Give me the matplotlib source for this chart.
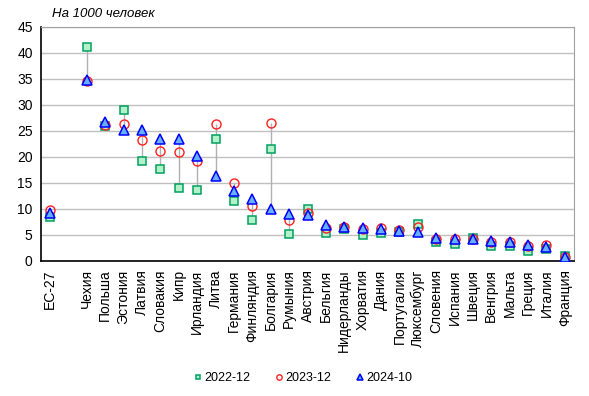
import matplotlib.pyplot as plt
import numpy as np

plt.rcParams['font.family'] = ['Liberation Sans', 'DejaVu Sans']

# categories ('' = empty slot after EU average)
countries = ['ЕС-27', '', 'Чехия', 'Польша', 'Эстония', 'Латвия', 'Словакия', 'Кипр',
             'Ирландия', 'Литва', 'Германия', 'Финляндия', 'Болгария', 'Румыния',
             'Австрия', 'Бельгия', 'Нидерланды', 'Хорватия', 'Дания', 'Португалия',
             'Люксембург', 'Словения', 'Испания', 'Швеция', 'Венгрия', 'Мальта',
             'Греция', 'Италия', 'Франция']

v2022 = [8.4, np.nan, 41.2, 26.0, 29.0, 19.2, 17.7, 14.0, 13.7, 23.4, 11.6, 7.8, 21.5, 5.2,
         9.9, 5.4, 6.2, 4.9, 5.3, 5.5, 7.2, 3.6, 3.3, 4.5, 2.9, 2.9, 2.0, 2.3, 1.0]
v2023 = [9.8, np.nan, 34.6, 26.1, 26.4, 23.3, 21.2, 21.0, 19.2, 26.3, 14.9, 10.5, 26.5, 7.8,
         9.3, 6.4, 6.5, 6.2, 6.4, 5.9, 6.5, 4.2, 4.3, 4.3, 3.6, 3.7, 2.8, 3.0, 0.8]
v2024 = [9.3, np.nan, 34.7, 26.7, 25.2, 25.2, 23.4, 23.4, 20.2, 16.3, 13.5, 11.9, 10.0, 9.1,
         8.8, 7.0, 6.6, 6.4, 6.2, 5.8, 5.6, 4.5, 4.3, 4.3, 3.8, 3.7, 3.0, 2.7, 0.8]

series_names = ['2022-12', '2023-12', '2024-10']

x = np.arange(len(countries))
data = np.array([v2022, v2023, v2024])

fig = plt.figure(figsize=(5.89, 3.96), dpi=100)
ax = fig.add_axes([0.0696, 0.341, 0.905, 0.591])

# high-low lines
lo = np.nanmin(data, axis=0)
hi = np.nanmax(data, axis=0)
ok = ~np.isnan(lo)
ax.vlines(x[ok], lo[ok], hi[ok], color='#b0b0b0', lw=1, zorder=2)

ax.plot(x, v2022, ls='none', marker='s', ms=5.5, mfc='#b4f0c8', mec='#00a060', mew=1.1,
        label=series_names[0], zorder=3)
ax.plot(x, v2023, ls='none', marker='o', ms=6.5, mfc='none', mec='#ff2020', mew=1.0,
        label=series_names[1], zorder=4)
ax.plot(x, v2024, ls='none', marker='^', ms=7, mfc='#66b0ff', mec='#0000ff', mew=1.1,
        label=series_names[2], zorder=5)

ax.set_xlim(-0.5, len(countries) - 0.5)
ax.set_ylim(0, 45)
ax.set_yticks(range(0, 46, 5))
ax.set_xticks(x)
ax.set_xticklabels(countries, rotation=90, fontsize=10)
ax.tick_params(axis='x', length=0, pad=6)
ax.tick_params(axis='y', length=0, labelsize=10, pad=6)
ax.grid(axis='y', color='#c0c0c0', lw=1)
ax.set_axisbelow(True)
for s in ['top', 'right']:
    ax.spines[s].set_color('#a0a0a0')
for s in ['left', 'bottom']:
    ax.spines[s].set_color('black')
    ax.spines[s].set_linewidth(1.2)

fig.text(0.088, 0.965, 'На 1000 человек', fontsize=9.5, style='italic', va='center')

leg = fig.legend(loc='center', bbox_to_anchor=(0.515, 0.045), ncol=3, frameon=False,
                 fontsize=9, markerscale=0.6, handletextpad=0.2, columnspacing=2.0,
                 handlelength=0.6)

fig.savefig('out.png', dpi=100)
